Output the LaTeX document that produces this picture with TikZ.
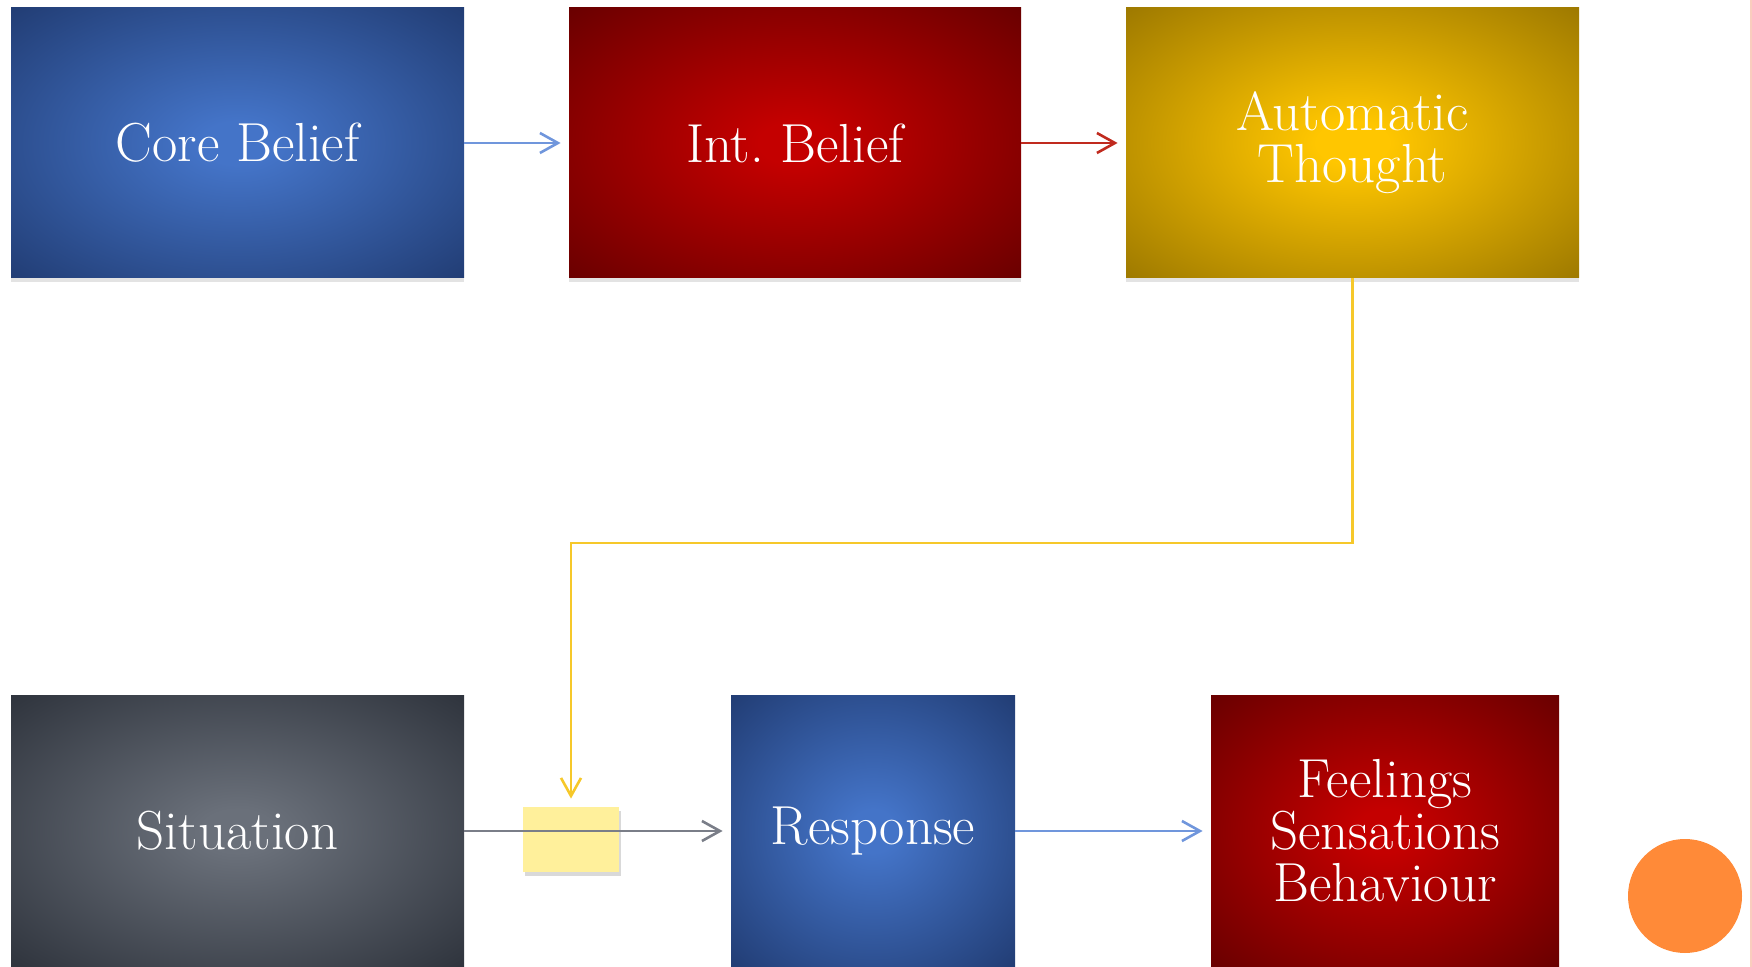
\documentclass[tikz,border=0pt]{standalone}
\usepackage{tikz}
\usetikzlibrary{arrows.meta,shadows,calc}
\definecolor{blueIn}{RGB}{68,116,200}
\definecolor{blueOut}{RGB}{33,60,115}
\definecolor{redIn}{RGB}{196,0,0}
\definecolor{redOut}{RGB}{104,0,0}
\definecolor{goldIn}{RGB}{255,198,0}
\definecolor{goldOut}{RGB}{156,120,0}
\definecolor{grayIn}{RGB}{106,112,122}
\definecolor{grayOut}{RGB}{46,51,60}
\definecolor{noteFill}{RGB}{255,240,155}
\definecolor{lineBlue}{RGB}{112,150,220}
\definecolor{lineRed}{RGB}{192,42,30}
\definecolor{lineGold}{RGB}{246,200,42}
\definecolor{lineGray}{RGB}{122,126,136}
\definecolor{dotOrange}{RGB}{255,138,56}
\definecolor{edgeLine}{RGB}{250,205,190}
\def\boxshade#1{\pgfdeclareradialshading{#1shade}{\pgfpoint{0bp}{0bp}}{color(0bp)=(#1In); color(4bp)=(#1In); color(36bp)=(#1Out); color(50bp)=(#1Out)}}
\boxshade{blue}
\boxshade{red}
\boxshade{gold}
\boxshade{gray}
\tikzset{
  box/.style={rectangle, minimum height=135pt, inner sep=0pt, align=center,
    text=white, font=\fontsize{27.5}{26}\selectfont,
    drop shadow={opacity=0.22, shadow xshift=0pt, shadow yshift=-2pt}},
  bluebox/.style={box, shading=blueshade},
  redbox/.style={box, shading=redshade},
  goldbox/.style={box, shading=goldshade},
  graybox/.style={box, shading=grayshade},
  link/.style={line width=1.3pt, -{Straight Barb[length=9pt,width=10pt,line width=1.3pt]}, shorten >=4pt},
}
\begin{document}
\begin{tikzpicture}[x=0.5pt, y=-0.5pt]
			%%%%% START %%%%%
			\useasboundingbox (0, 0) rectangle (1752, 967);
			
			\node[bluebox, minimum width=226.5pt] (core) at (237.5, 143) {Core Belief};
			\node[redbox, minimum width=226pt] (inter) at (795, 143) {Int.\ Belief};
			\node[goldbox, minimum width=226.5pt] (auto) at (1352.5, 143) {Automatic\\Thought};
			
			\node[graybox, minimum width=226.5pt] (situation) at (237.5, 831) {Situation};
			\node[bluebox, minimum width=142pt] (response) at (873, 831) {Response};
			\node[redbox, minimum width=174pt] (feelings) at (1385, 831) {Feelings\\Sensations\\Behaviour};
			
			\node[rectangle, fill=noteFill, minimum width=48pt, minimum height=32.5pt, inner sep=0pt,
			  drop shadow={opacity=0.3, shadow xshift=1pt, shadow yshift=-2pt}] (note) at (571, 839.5) {};
			
			\draw[link, color=lineBlue] (core) -- (inter);
			\draw[link, color=lineRed] (inter) -- (auto);
			
			\coordinate (turn) at (571, 543);
			\draw[link, color=lineGold] (auto.south) |- (turn) -- (note.north);
			
			\draw[link, color=lineGray] (situation) -- (response);
			\draw[link, color=lineBlue] (response) -- (feelings);
			
			\draw[line width=0.6pt, color=edgeLine] (1751, 0) -- (1751, 967);
			\fill[color=dotOrange] (1685, 896) circle (57);
			
			%%%%% END %%%%%
\end{tikzpicture}
\end{document}
